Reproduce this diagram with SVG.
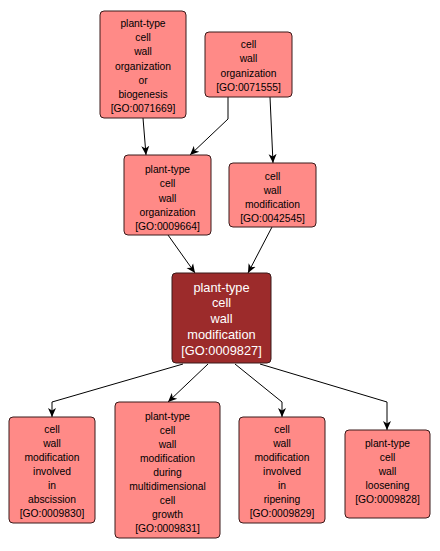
<svg xmlns="http://www.w3.org/2000/svg" width="440" height="551" viewBox="0 0 440 551">
<style>
.n rect{fill:#ff8a87;stroke:#3a1a1a;stroke-width:1}
.n text{font-family:"Liberation Sans",Arial,sans-serif;font-size:10.3px;fill:#000;text-anchor:middle;dominant-baseline:central}
#GO_0009827 rect{fill:#9c2b2b}
#GO_0009827 text{fill:#fff;font-size:12.8px}
.e{fill:none;stroke:#000;stroke-width:1;marker-end:url(#ah)}
</style>
<defs>
<marker id="ah" markerWidth="10" markerHeight="10" refX="9" refY="5" orient="auto" markerUnits="userSpaceOnUse">
<path d="M0,1 L9,5 L0,9 L2.5,5 z" fill="#000"/>
</marker>
</defs>
<rect width="440" height="551" fill="#fff"/>
<g id="edges">
<path class="e" d="M143,118 L146,155"/>
<path class="e" d="M228,97 L228,119 L190,155"/>
<path class="e" d="M270,97 L273,163"/>
<path class="e" d="M168,235 L195,273"/>
<path class="e" d="M272,227 L248,273"/>
<path class="e" d="M183,364 L52,402 L52,417"/>
<path class="e" d="M208,364 L168,402"/>
<path class="e" d="M235,364 L282,402 L282,417"/>
<path class="e" d="M260,364 L387,402 L387,430"/>
</g>
<g id="GO_0071669" class="n">
<rect x="100" y="11" width="86" height="107" rx="4"/>
<text x="143" y="23">plant-type</text><text x="143" y="37.5">cell</text><text x="143" y="51.5">wall</text><text x="143" y="66">organization</text><text x="143" y="80">or</text><text x="143" y="94">biogenesis</text><text x="143" y="108">[GO:0071669]</text>
</g>
<g id="GO_0071555" class="n">
<rect x="205" y="32" width="87" height="65" rx="4"/>
<text x="248.5" y="44">cell</text><text x="248.5" y="58">wall</text><text x="248.5" y="73">organization</text><text x="248.5" y="87">[GO:0071555]</text>
</g>
<g id="GO_0009664" class="n">
<rect x="124" y="155" width="87" height="80" rx="4"/>
<text x="167.5" y="169">plant-type</text><text x="167.5" y="183">cell</text><text x="167.5" y="198">wall</text><text x="167.5" y="212">organization</text><text x="167.5" y="226">[GO:0009664]</text>
</g>
<g id="GO_0042545" class="n">
<rect x="229" y="163" width="87" height="64" rx="4"/>
<text x="272.5" y="176">cell</text><text x="272.5" y="190">wall</text><text x="272.5" y="204">modification</text><text x="272.5" y="218">[GO:0042545]</text>
</g>
<g id="GO_0009827" class="n">
<rect x="172" y="273" width="99" height="90" rx="4"/>
<text x="221.5" y="287">plant-type</text><text x="221.5" y="302.5">cell</text><text x="221.5" y="318">wall</text><text x="221.5" y="334">modification</text><text x="221.5" y="350">[GO:0009827]</text>
</g>
<g id="GO_0009830" class="n">
<rect x="9" y="417" width="86" height="106" rx="4"/>
<text x="52" y="429">cell</text><text x="52" y="443">wall</text><text x="52" y="457">modification</text><text x="52" y="471">involved</text><text x="52" y="485">in</text><text x="52" y="499">abscission</text><text x="52" y="513">[GO:0009830]</text>
</g>
<g id="GO_0009831" class="n">
<rect x="115" y="402" width="105" height="136" rx="4"/>
<text x="167.5" y="416">plant-type</text><text x="167.5" y="430">cell</text><text x="167.5" y="444">wall</text><text x="167.5" y="458">modification</text><text x="167.5" y="472">during</text><text x="167.5" y="486">multidimensional</text><text x="167.5" y="500">cell</text><text x="167.5" y="514">growth</text><text x="167.5" y="528">[GO:0009831]</text>
</g>
<g id="GO_0009829" class="n">
<rect x="239" y="417" width="86" height="106" rx="4"/>
<text x="282" y="429">cell</text><text x="282" y="443">wall</text><text x="282" y="457">modification</text><text x="282" y="471">involved</text><text x="282" y="485">in</text><text x="282" y="499">ripening</text><text x="282" y="513">[GO:0009829]</text>
</g>
<g id="GO_0009828" class="n">
<rect x="345" y="430" width="85" height="88" rx="4"/>
<text x="387.5" y="443">plant-type</text><text x="387.5" y="457">cell</text><text x="387.5" y="471">wall</text><text x="387.5" y="485">loosening</text><text x="387.5" y="499">[GO:0009828]</text>
</g>
</svg>
